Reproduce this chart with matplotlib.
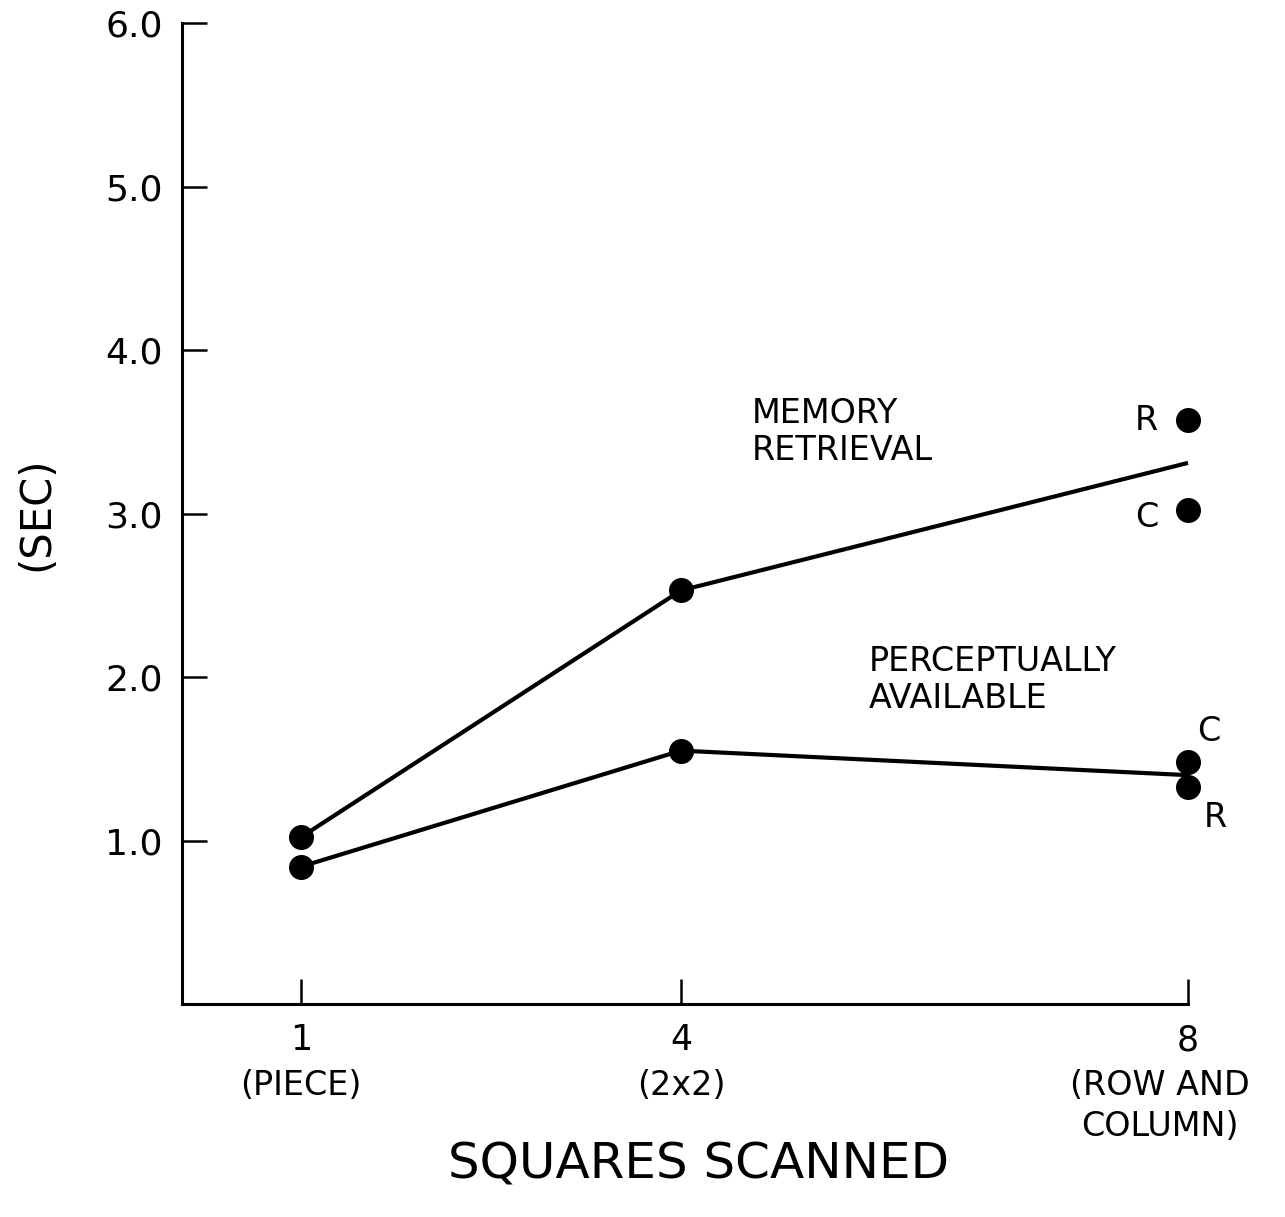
import matplotlib.pyplot as plt

# datos
squares = [1, 4, 8]
tick_names = ['1', '4', '8']
sub_names = ['(PIECE)', '(2x2)', '(ROW AND\nCOLUMN)']

# memory retrieval: linea (media) y puntos separados en 8 (R y C)
memory_line = [1.02, 2.53, 3.31]
memory_pts = [1.02, 2.53]
memory_R = 3.57
memory_C = 3.02

# perceptually available
percep_line = [0.84, 1.55, 1.40]
percep_pts = [0.84, 1.55]
percep_C = 1.48
percep_R = 1.33

plt.rcParams['font.family'] = ['DejaVu Sans']

fig = plt.figure(figsize=(12.85, 12.17), dpi=100)
ax = fig.add_axes([0.1416, 0.175, 0.9245 - 0.1416, 0.981 - 0.175])

# lineas
ax.plot(squares, memory_line, color='black', lw=3, solid_capstyle='butt', clip_on=False)
ax.plot(squares, percep_line, color='black', lw=3, solid_capstyle='butt', clip_on=False)

# puntos
ax.plot(squares[:2], memory_pts, 'o', color='black', ms=17, clip_on=False)
ax.plot(squares[:2], percep_pts, 'o', color='black', ms=17, clip_on=False)
ax.plot([squares[2]] * 2, [memory_R, memory_C], 'o', color='black', ms=17, clip_on=False)
ax.plot([squares[2]] * 2, [percep_C, percep_R], 'o', color='black', ms=17, clip_on=False)

# letras R y C
fs_small = 24
ax.annotate('R', (squares[2], memory_R), xytext=(-30, 0), textcoords='offset points',
            ha='center', va='center', fontsize=fs_small)
ax.annotate('C', (squares[2], memory_C), xytext=(-30, -5), textcoords='offset points',
            ha='center', va='center', fontsize=fs_small)
ax.annotate('C', (squares[2], percep_C), xytext=(15, 22), textcoords='offset points',
            ha='center', va='center', fontsize=fs_small)
ax.annotate('R', (squares[2], percep_R), xytext=(20, -22), textcoords='offset points',
            ha='center', va='center', fontsize=fs_small)

# nombres de las curvas
ax.text(4.56, 3.50, 'MEMORY\nRETRIEVAL', fontsize=24,
        ha='left', va='center', linespacing=1.15)
ax.text(5.48, 1.98, 'PERCEPTUALLY\nAVAILABLE', fontsize=24,
        ha='left', va='center', linespacing=1.15)

# ejes
ax.set_xlim(0.062, 8)
ax.set_ylim(0, 6)
ax.spines['top'].set_visible(False)
ax.spines['right'].set_visible(False)
for s in ['left', 'bottom']:
    ax.spines[s].set_linewidth(2.2)

ax.set_yticks([1, 2, 3, 4, 5, 6])
ax.set_yticklabels(['1.0', '2.0', '3.0', '4.0', '5.0', '6.0'], fontsize=26)
ax.set_xticks(squares)
ax.set_xticklabels(tick_names, fontsize=25)
ax.tick_params(axis='both', direction='in', length=18, width=1.8, pad=14)
ax.tick_params(axis='x', pad=14)

# subtitulos debajo de cada numero
sub_shift = [0, 0, -20]
for x, name, dx in zip(squares, sub_names, sub_shift):
    ax.annotate(name, (x, 0), xytext=(dx, -47), textcoords='offset points',
                ha='center', va='top', fontsize=24, linespacing=1.3,
                multialignment='center', annotation_clip=False)

fig.text(0.544, 0.043, 'SQUARES SCANNED', fontsize=36, ha='center', va='center')
ax.set_ylabel('(SEC)', fontsize=30, labelpad=34)

plt.savefig('out.png', dpi=100)
